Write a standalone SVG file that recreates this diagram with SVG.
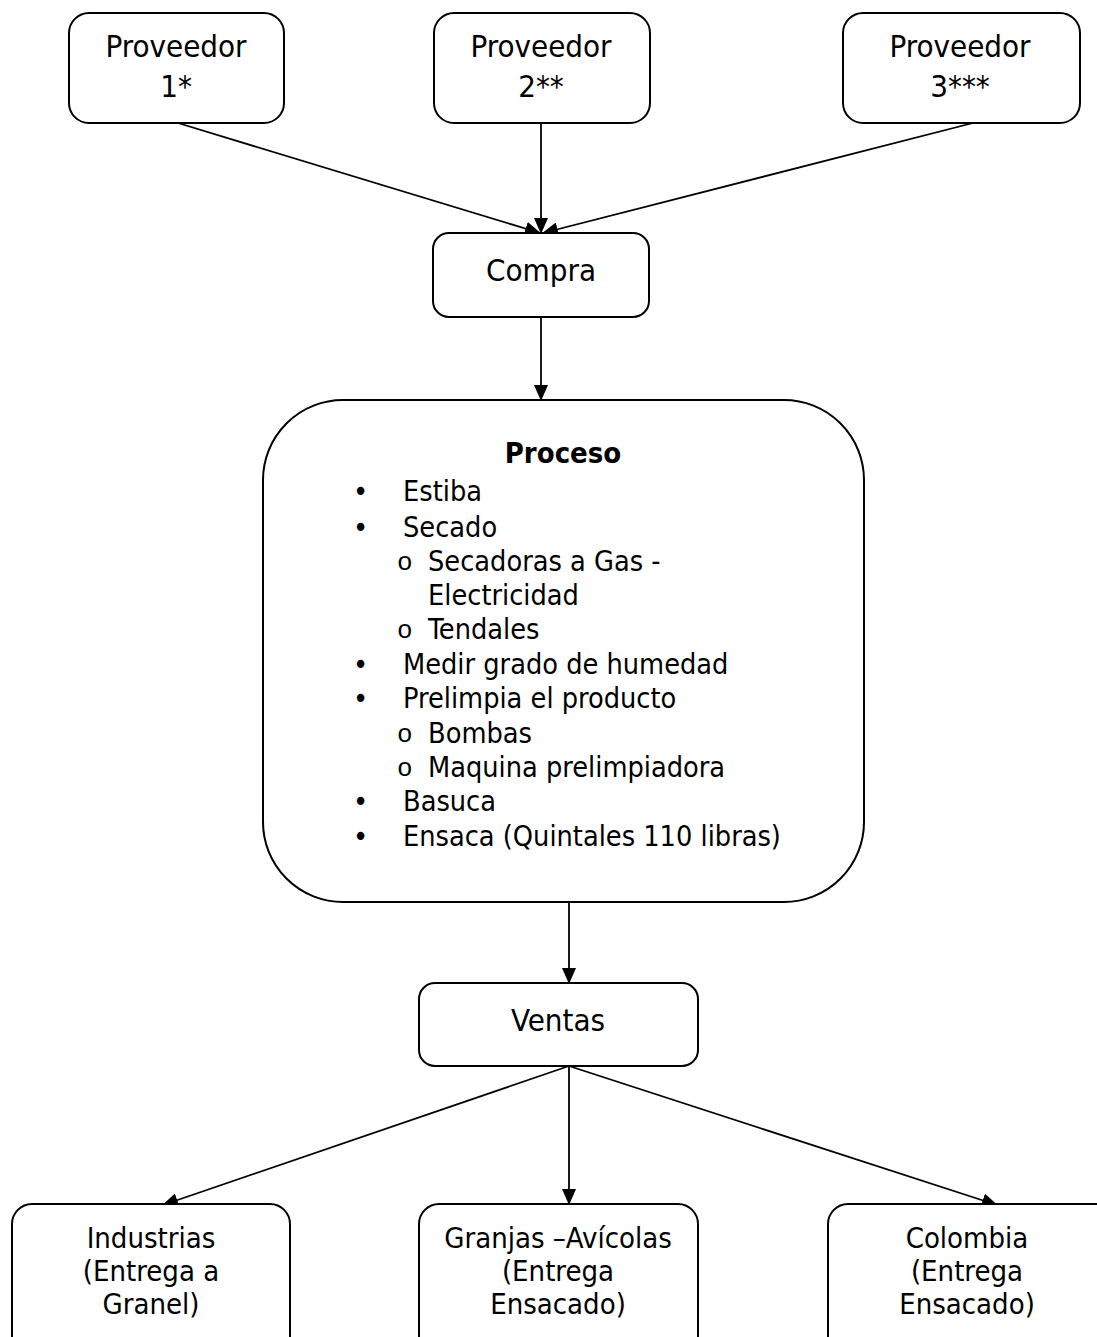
<svg xmlns="http://www.w3.org/2000/svg" width="1097" height="1337" viewBox="0 0 1097 1337">
<style>
.box{fill:#fff;stroke:#000;stroke-width:2}
.t{font-family:'DejaVu Sans Condensed','DejaVu Sans',sans-serif;font-stretch:condensed;fill:#000}
.big{font-size:31px;text-anchor:middle}
.mid{font-size:29px;text-anchor:middle}
.li{font-size:28.6px}
.o{font-family:'Liberation Mono',monospace;font-size:26px}
.c{stroke:#000;stroke-width:1.8;fill:none;marker-end:url(#ah)}
</style>
<defs>
<marker id="ah" markerWidth="16" markerHeight="14" refX="15" refY="7" orient="auto" markerUnits="userSpaceOnUse">
<path d="M0,0 L16,7 L0,14 Z" fill="#000"/>
</marker>
</defs>
<rect width="1097" height="1337" fill="#fff"/>
<g id="connectors">
<line class="c" x1="178" y1="123" x2="540" y2="233"/>
<line class="c" x1="541" y1="123" x2="541" y2="233"/>
<line class="c" x1="973" y1="123" x2="543" y2="233"/>
<line class="c" x1="541" y1="317" x2="541" y2="400"/>
<line class="c" x1="569" y1="902" x2="569" y2="983"/>
<line class="c" x1="569" y1="1066" x2="163" y2="1205"/>
<line class="c" x1="569" y1="1066" x2="569" y2="1204"/>
<line class="c" x1="569" y1="1066" x2="997" y2="1205"/>
</g>
<g id="proveedor1">
<rect class="box" x="69" y="13" width="215" height="110" rx="20"/>
<text class="t big" x="176" y="57">Proveedor</text>
<text class="t big" x="176" y="97">1*</text>
</g>
<g id="proveedor2">
<rect class="box" x="434" y="13" width="216" height="110" rx="20"/>
<text class="t big" x="541" y="57">Proveedor</text>
<text class="t big" x="541" y="97">2**</text>
</g>
<g id="proveedor3">
<rect class="box" x="843" y="13" width="237" height="110" rx="20"/>
<text class="t big" x="960" y="57">Proveedor</text>
<text class="t big" x="960" y="97">3***</text>
</g>
<g id="compra">
<rect class="box" x="433" y="233" width="216" height="84" rx="16"/>
<text class="t big" x="541" y="281">Compra</text>
</g>
<g id="proceso">
<rect class="box" x="263" y="400" width="601" height="502" rx="80"/>
<text class="t mid" x="563" y="463" font-weight="bold">Proceso</text>
<g class="t li">
<text x="353" y="501">•</text><text x="403" y="501">Estiba</text>
<text x="353" y="537">•</text><text x="403" y="537">Secado</text>
<text class="o" x="397" y="570">o</text><text x="428" y="571">Secadoras a Gas -</text>
<text x="428" y="605">Electricidad</text>
<text class="o" x="397" y="638">o</text><text x="428" y="639">Tendales</text>
<text x="353" y="674">•</text><text x="403" y="674">Medir grado de humedad</text>
<text x="353" y="708">•</text><text x="403" y="708">Prelimpia el producto</text>
<text class="o" x="397" y="742">o</text><text x="428" y="743">Bombas</text>
<text class="o" x="397" y="776">o</text><text x="428" y="777">Maquina prelimpiadora</text>
<text x="353" y="811">•</text><text x="403" y="811">Basuca</text>
<text x="353" y="846">•</text><text x="403" y="846">Ensaca (Quintales 110 libras)</text>
</g>
</g>
<g id="ventas">
<rect class="box" x="419" y="983" width="279" height="83" rx="16"/>
<text class="t big" x="558" y="1031">Ventas</text>
</g>
<g id="industrias">
<rect class="box" x="12" y="1204" width="278" height="160" rx="20"/>
<text class="t mid" x="151" y="1248">Industrias</text>
<text class="t mid" x="151" y="1281">(Entrega a</text>
<text class="t mid" x="151" y="1314">Granel)</text>
</g>
<g id="granjas">
<rect class="box" x="419" y="1204" width="279" height="160" rx="20"/>
<text class="t mid" x="558" y="1248">Granjas –Avícolas</text>
<text class="t mid" x="558" y="1281">(Entrega</text>
<text class="t mid" x="558" y="1314">Ensacado)</text>
</g>
<g id="colombia">
<rect class="box" x="828" y="1204" width="300" height="160" rx="20"/>
<text class="t mid" x="967" y="1248">Colombia</text>
<text class="t mid" x="967" y="1281">(Entrega</text>
<text class="t mid" x="967" y="1314">Ensacado)</text>
</g>
</svg>
